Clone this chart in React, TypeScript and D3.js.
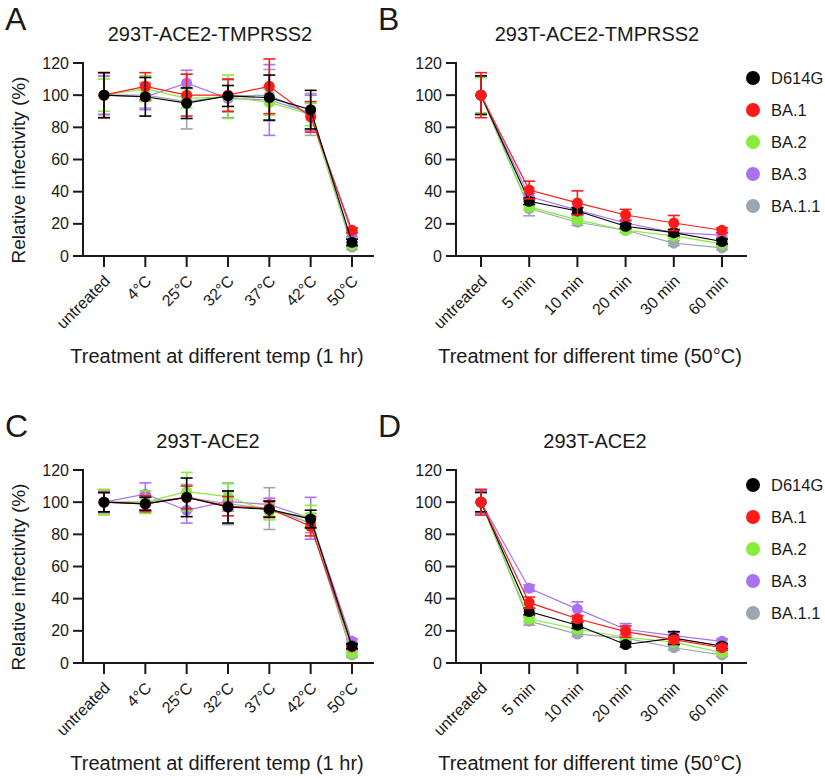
import React from "react";
import * as d3 from "d3";

const SERIES = ["D614G", "BA.1", "BA.2", "BA.3", "BA.1.1"];
const COLORS = ["#000000", "#ff1a1a", "#86ec3e", "#ab72f0", "#9ca7b0"];
const TEMP_CATS = ["untreated", "4°C", "25°C", "32°C", "37°C", "42°C", "50°C"];
const TIME_CATS = ["untreated", "5 min", "10 min", "20 min", "30 min", "60 min"];
const Y_TICKS = [0, 20, 40, 60, 80, 100, 120];

// Panel A: 293T-ACE2-TMPRSS2, temperature (rows follow SERIES)
const A_MEAN = [
  [100, 99, 95, 99.5, 98.5, 91, 8.5],
  [100, 105.5, 100, 100, 105.5, 86.5, 16],
  [100, 104, 98, 99, 95.5, 88, 7],
  [100, 99, 107.5, 98, 97, 89, 14],
  [100, 100, 96, 99.5, 100, 88, 5.5],
];
const A_ERR = [
  [14, 12, 9.5, 6.5, 14, 12, 2],
  [14, 8.5, 13, 10, 17, 9.5, 1.5],
  [10, 8, 6, 13.5, 8, 7, 1.5],
  [12, 8, 8, 12, 22, 11, 2],
  [12, 8, 17, 10, 16, 13, 1.5],
];
// Panel B: 293T-ACE2-TMPRSS2, time at 50°C
const B_MEAN = [
  [100, 34, 28, 18.5, 14.5, 9],
  [100, 41, 33, 25.5, 20.5, 16],
  [100, 30.5, 22.5, 16, 12.5, 7.5],
  [100, 37, 28.5, 20.5, 14.5, 13],
  [100, 29.5, 21, 16, 8, 5],
];
const B_ERR = [
  [12, 2, 2, 1.5, 2, 1.5],
  [14, 5.5, 7.5, 3.5, 4.7, 1.5],
  [11, 2, 2, 1.5, 1.5, 1],
  [12, 2, 2, 2, 1.5, 1.5],
  [11, 4.5, 2, 1.5, 1.5, 1],
];
// Panel C: 293T-ACE2, temperature
const C_MEAN = [
  [100, 99, 103, 97, 95.5, 89.5, 10.5],
  [100, 99, 103, 97.5, 96, 85, 10],
  [100, 100, 106.5, 103.5, 94, 91, 6],
  [100, 105, 95, 100.5, 98.5, 90, 13.5],
  [100, 100, 103, 99, 96, 87, 5],
];
const C_ERR = [
  [6, 4, 12, 10, 5, 5.5, 1.5],
  [6, 5, 7, 6, 5, 6, 1.5],
  [8, 7, 12, 8, 5, 7, 1.5],
  [6, 7, 8, 6, 4, 13, 1.5],
  [7, 5, 8, 13, 13, 6, 1.5],
];
// Panel D: 293T-ACE2, time at 50°C
const D_MEAN = [
  [100, 32, 23.5, 11.5, 15.5, 10.5],
  [100, 37.5, 27.5, 19.5, 14.5, 9.5],
  [100, 27.5, 21, 16, 13, 6.5],
  [100, 46.5, 33.5, 21, 17, 13.5],
  [100, 26, 18, 15.5, 9.5, 5],
];
const D_ERR = [
  [6, 2, 2, 1.5, 4, 1.5],
  [8, 3.5, 2, 3.5, 2, 1.5],
  [7, 2, 2, 1.5, 1.5, 1],
  [7, 2, 4.5, 3.5, 2, 1.5],
  [7, 2.5, 1.5, 1.5, 1.5, 1],
];

const FONT = "'Liberation Sans', Arial, sans-serif";
const TXT = "#1a1a1a";

type PanelProps = {
  letter: string;
  title: string;
  xTitle: string;
  cats: string[];
  means: number[][];
  errs: number[][];
  order: number[];
  ox: number; // y-axis x
  oy: number; // top of plot (value 120)
  firstX: number;
  lastX: number;
  axisEnd: number;
  titleX: number;
  xTitleX: number;
  legend: boolean;
};

function Panel(p: PanelProps) {
  const bottom = p.oy + 193;
  const y = d3.scaleLinear().domain([0, 120]).range([bottom, p.oy]);
  const x = d3.scalePoint<string>().domain(p.cats).range([p.firstX, p.lastX]);
  const line = d3
    .line<number>()
    .x((_, i) => x(p.cats[i]) as number)
    .y((d) => y(d));
  const cap = 6;
  return (
    <g fontFamily={FONT}>
      <text x={p.ox - 78} y={p.oy - 33} fontSize={32} fill={TXT}>
        {p.letter}
      </text>
      <text x={p.titleX} y={p.oy - 22} fontSize={20} textAnchor="middle" fill={TXT}>
        {p.title}
      </text>
      {/* axes */}
      <line x1={p.ox} x2={p.ox} y1={p.oy - 1} y2={bottom + 1} stroke={TXT} strokeWidth={2} />
      <line x1={p.ox} x2={p.axisEnd} y1={bottom} y2={bottom} stroke={TXT} strokeWidth={2} />
      {Y_TICKS.map((t) => (
        <g key={t}>
          <line x1={p.ox - 10} x2={p.ox} y1={y(t)} y2={y(t)} stroke={TXT} strokeWidth={2} />
          <text x={p.ox - 14} y={y(t)} dy="0.35em" fontSize={16} textAnchor="end" fill={TXT}>
            {t}
          </text>
        </g>
      ))}
      {p.cats.map((c) => (
        <g key={c}>
          <line x1={x(c)} x2={x(c)} y1={bottom} y2={bottom + 11} stroke={TXT} strokeWidth={2} />
          <text
            transform={`translate(${(x(c) as number) + 7},${bottom + 26}) rotate(-45)`}
            fontSize={16}
            textAnchor="end"
            fill={TXT}
          >
            {c}
          </text>
        </g>
      ))}
      <text x={p.xTitleX} y={bottom + 107} fontSize={20} textAnchor="middle" fill={TXT}>
        {p.xTitle}
      </text>
      {p.ox < 200 && (
        <text
          transform={`translate(25,${p.oy + 107}) rotate(-90)`}
          fontSize={19}
          textAnchor="middle"
          fill={TXT}
        >
          Relative infectivity (%)
        </text>
      )}
      {/* series */}
      {p.order.map((s) => (
        <g key={s}>
          <path d={line(p.means[s]) || ""} fill="none" stroke={COLORS[s]} strokeWidth={1.2} />
          {p.means[s].map((m, i) => {
            const cx = x(p.cats[i]) as number;
            const e = p.errs[s][i];
            return (
              <g key={i} stroke={COLORS[s]} strokeWidth={1.6}>
                <line x1={cx} x2={cx} y1={y(m + e)} y2={y(m - e)} />
                <line x1={cx - cap} x2={cx + cap} y1={y(m + e)} y2={y(m + e)} />
                <line x1={cx - cap} x2={cx + cap} y1={y(m - e)} y2={y(m - e)} />
              </g>
            );
          })}
          {p.means[s].map((m, i) => (
            <circle key={i} cx={x(p.cats[i]) as number} cy={y(m)} r={5.5} fill={COLORS[s]} />
          ))}
        </g>
      ))}
      {p.legend &&
        SERIES.map((name, i) => (
          <g key={name}>
            <circle cx={753} cy={p.oy + 15 + i * 32} r={7} fill={COLORS[i]} />
            <text x={771} y={p.oy + 15 + i * 32} dy="0.35em" fontSize={16.5} fill={TXT}>
              {name}
            </text>
          </g>
        ))}
    </g>
  );
}

export default function App() {
  const tempOrder = [4, 3, 2, 1, 0];
  const timeOrder = [4, 2, 3, 0, 1];
  return (
    <div style={{ position: "absolute", left: 0, top: 0 }}>
      <svg width={825} height={778} style={{ display: "block", background: "#fff" }}>
        <Panel
          letter="A"
          title="293T-ACE2-TMPRSS2"
          xTitle="Treatment at different temp (1 hr)"
          cats={TEMP_CATS}
          means={A_MEAN}
          errs={A_ERR}
          order={tempOrder}
          ox={83}
          oy={63}
          firstX={104}
          lastX={352}
          axisEnd={374}
          titleX={210}
          xTitleX={217}
          legend={false}
        />
        <Panel
          letter="B"
          title="293T-ACE2-TMPRSS2"
          xTitle="Treatment for different time (50°C)"
          cats={TIME_CATS}
          means={B_MEAN}
          errs={B_ERR}
          order={timeOrder}
          ox={456}
          oy={63}
          firstX={481}
          lastX={722}
          axisEnd={747}
          titleX={597}
          xTitleX={590}
          legend={true}
        />
        <Panel
          letter="C"
          title="293T-ACE2"
          xTitle="Treatment at different temp (1 hr)"
          cats={TEMP_CATS}
          means={C_MEAN}
          errs={C_ERR}
          order={tempOrder}
          ox={83}
          oy={470}
          firstX={104}
          lastX={352}
          axisEnd={374}
          titleX={208}
          xTitleX={217}
          legend={false}
        />
        <Panel
          letter="D"
          title="293T-ACE2"
          xTitle="Treatment for different time (50°C)"
          cats={TIME_CATS}
          means={D_MEAN}
          errs={D_ERR}
          order={timeOrder}
          ox={456}
          oy={470}
          firstX={481}
          lastX={722}
          axisEnd={747}
          titleX={595}
          xTitleX={590}
          legend={true}
        />
      </svg>
    </div>
  );
}
